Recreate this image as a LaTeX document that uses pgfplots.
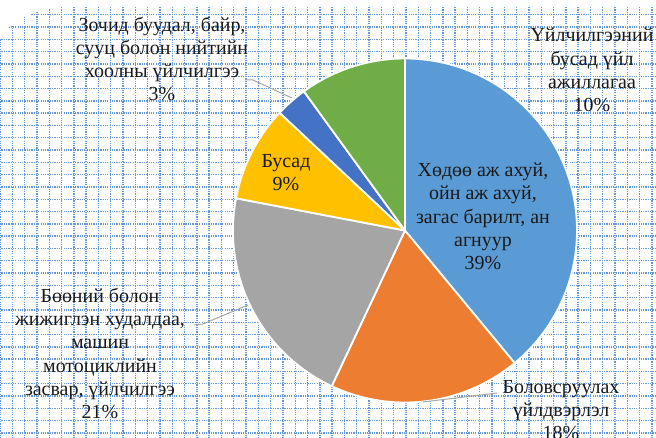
\documentclass[border=0pt]{standalone}
\usepackage{pgfplots}
\pgfplotsset{compat=1.18}
\usepackage{pgfplotstable}
\usepackage{fontspec}
\setmainfont{Liberation Serif}
\definecolor{cA}{RGB}{91,155,213}
\definecolor{cB}{RGB}{237,125,49}
\definecolor{cC}{RGB}{165,165,165}
\definecolor{cD}{RGB}{255,192,0}
\definecolor{cE}{RGB}{68,114,196}
\definecolor{cF}{RGB}{112,173,71}
\definecolor{gridcol}{RGB}{100,152,218}
\definecolor{leader}{RGB}{166,166,166}
\pgfplotstableread{
value col
39 cA
18 cB
21 cC
9 cD
3 cE
10 cF
}\piedata
\begin{document}
\begin{tikzpicture}
\useasboundingbox (0,0) rectangle (656bp,438bp);
\clip (0,0) rectangle (656bp,438bp);
\begin{scope}
\clip (0,0) -- (656bp,0) -- (656bp,432bp) -- (85bp,432bp) .. controls (40bp,432bp) and (10bp,420bp) .. (0,398bp) -- cycle;
\draw[gridcol, line width=1.4bp, dash pattern=on 1.2bp off 1.1bp, step=12.3bp, shift={(0,5bp)}] (-12.3bp,-12.3bp) grid (670bp,440bp);
\end{scope}
\begin{axis}[at={(0,0)}, anchor=south west, x=1bp, y=1bp,
  xmin=0, xmax=656, ymin=0, ymax=438, hide axis, clip=false]
\pgfplotstablegetrowsof{\piedata}
\pgfmathtruncatemacro{\N}{\pgfplotsretval-1}
\def\cum{0}
\pgfplotsforeachungrouped \i in {0,...,\N}{%
  \pgfplotstablegetelem{\i}{value}\of{\piedata}\let\v\pgfplotsretval
  \pgfplotstablegetelem{\i}{col}\of{\piedata}\let\c\pgfplotsretval
  \pgfmathsetmacro{\a}{90-3.6*\cum}%
  \pgfmathsetmacro{\b}{90-3.6*(\cum+\v)}%
  \edef\temp{\noexpand\filldraw[fill=\c, draw=white, line width=1.8bp, line join=round] (axis cs:405,207.5) -- ++(\a:172bp) arc[start angle=\a, end angle=\b, radius=172bp] -- cycle;}%
  \temp
  \pgfmathsetmacro{\cum}{\cum+\v}%
}
\draw[leader, line width=1bp] (axis cs:245,358) -- (axis cs:253,358) -- (axis cs:292,340);
\draw[leader, line width=1bp] (axis cs:194,113) -- (axis cs:203,114) -- (axis cs:248,133);
\draw[leader, line width=1bp] (axis cs:423,36) -- (axis cs:497,45);
\tikzset{lab/.style={align=center, inner sep=0pt, text=black!90, font=\fontsize{20}{23.3}\selectfont}}
\node[lab] at (axis cs:483,221.5) {Хөдөө аж ахуй,\\ойн аж ахуй,\\загас барилт, ан\\агнуур\\39\%};
\node[lab] at (axis cs:561,28) {Боловсруулах\\үйлдвэрлэл\\18\%};
\node[lab] at (axis cs:100,84.5) {Бөөний болон\\жижиглэн худалдаа,\\машин\\мотоциклийн\\засвар, үйлчилгээ\\21\%};
\node[lab] at (axis cs:286,265.5) {Бусад\\9\%};
\node[lab] at (axis cs:162,379) {Зочид буудал,  байр,\\сууц  болон нийтийн\\хоолны үйлчилгээ\\3\%};
\node[lab] at (axis cs:592,368) {Үйлчилгээний\\бусад үйл\\ажиллагаа\\10\%};
\end{axis}
\end{tikzpicture}
\end{document}
